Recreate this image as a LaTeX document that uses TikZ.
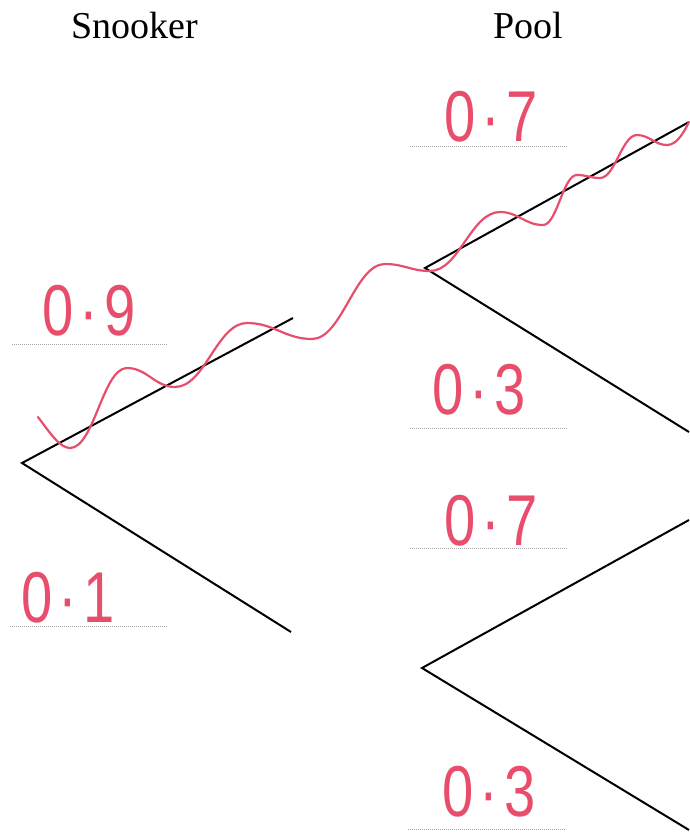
\documentclass[tikz,border=0pt]{standalone}
\usepackage{fontspec}
\setmainfont{Liberation Serif}
\newfontfamily\handfont[FakeStretch=0.78]{Liberation Sans}
\definecolor{pen}{RGB}{232,78,108}
\tikzset{
    branch/.style={line width=2pt, black},
    wavy/.style={pen, line width=2.2pt, line cap=round, line join=round},
    rule/.style={gray!70, line width=1pt, dash pattern=on 1pt off 1pt},
    prob/.style={pen, font=\handfont\fontsize{72}{72}\selectfont, inner sep=0pt, anchor=base},
    heading/.style={font=\fontsize{38}{40}\selectfont, inner sep=0pt, anchor=base}
}
\newcommand{\pr}[1]{0\hspace{6pt}·\hspace{6pt}#1}

\begin{document}
\begin{tikzpicture}[x=1pt, y=-1pt]
        \useasboundingbox (0,0) rectangle (689,836);

        % Заголовки.
        \node[heading] (snooker) at (135,38) {Snooker};
        \node[heading] (pool) at (528,38) {Pool};

        % Дерево: снукер.
        \coordinate (s) at (22,463);
        \coordinate (s1) at (293,318);
        \coordinate (s2) at (291,632);
        \draw[branch] (s1) -- (s) -- (s2);

        % Дерево: пул.
        \coordinate (a) at (425,268);
        \coordinate (a1) at (689,122);
        \coordinate (a2) at (689,432);
        \draw[branch] (a1) -- (a) -- (a2);

        \coordinate (b) at (422,668);
        \coordinate (b1) at (689,520);
        \coordinate (b2) at (689,830);
        \draw[branch] (b1) -- (b) -- (b2);

        % Пунктирные строки.
        \draw[rule] (12,344) -- (168,344);
        \draw[rule] (10,626) -- (167,626);
        \draw[rule] (410,146) -- (567,146);
        \draw[rule] (410,428) -- (567,428);
        \draw[rule] (410,548) -- (567,548);
        \draw[rule] (408,829) -- (565,829);

        % Вероятности.
        \node[prob] (p9) at (89,335) {\pr{9}};
        \node[prob] (p1) at (68,622) {\pr{1}};
        \node[prob] (pa7) at (491,141) {\pr{7}};
        \node[prob] (pa3) at (479,414) {\pr{3}};
        \node[prob] (pb7) at (491,545) {\pr{7}};
        \node[prob] (pb3) at (489,816) {\pr{3}};

        % Волнистая линия.
        \draw[wavy] (38,417)
            .. controls (50,433) and (60,448) .. (70,448)
            .. controls +(24,0) and +(-24,0) .. (127,368)
            .. controls +(20,0) and +(-20,0) .. (175,387)
            .. controls +(30,0) and +(-30,0) .. (247,323)
            .. controls +(27,0) and +(-27,0) .. (312,339)
            .. controls +(30,0) and +(-30,0) .. (385,264)
            .. controls +(19,0) and +(-19,0) .. (430,271)
            .. controls +(29,0) and +(-29,0) .. (500,212)
            .. controls +(18,0) and +(-18,0) .. (543,225)
            .. controls +(14,0) and +(-14,0) .. (577,175)
            .. controls +(10,0) and +(-10,0) .. (600,178)
            .. controls +(15,0) and +(-15,0) .. (637,135)
            .. controls +(12,0) and +(-12,0) .. (667,145)
            .. controls +(10,0) and (684,132) .. (689,122);
    \end{tikzpicture}
\end{document}
